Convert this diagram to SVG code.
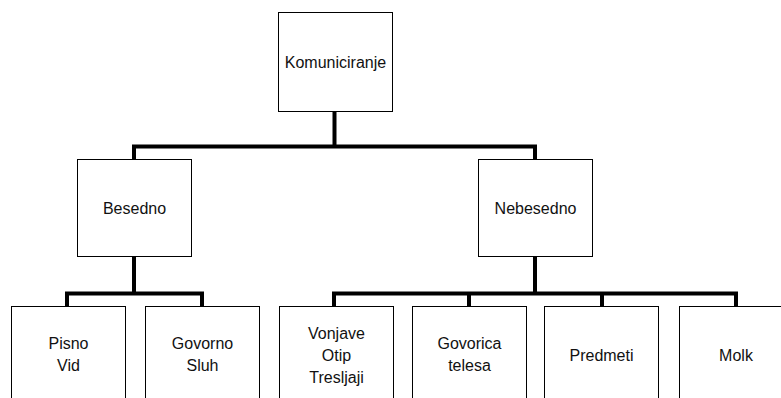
<svg xmlns="http://www.w3.org/2000/svg" width="781" height="398" viewBox="0 0 781 398">
<style>
.box{fill:#fff;stroke:#000;stroke-width:1}
.lbl{font-family:"Liberation Sans",Arial,sans-serif;font-size:16px;fill:#111;text-anchor:middle}
.con{fill:none;stroke:#000;stroke-width:4;stroke-linejoin:miter;stroke-linecap:square}
</style>
<rect width="781" height="398" fill="#fff"/>
<g id="connectors">
<path class="con" d="M334.5,111 V146.5 M134,159 V146.5 H535 V159"/>
<path class="con" d="M134,257 V293.5 M67,306 V293.5 H202 V306"/>
<path class="con" d="M535,257 V293.5 M334,306 V293.5 H736 V306 M469,293.5 V306 M602,293.5 V306"/>
</g>
<g id="komuniciranje">
<rect class="box" x="278.5" y="12.5" width="114" height="99"/>
<text class="lbl" x="335.5" y="67.5">Komuniciranje</text>
</g>
<g id="besedno">
<rect class="box" x="77.5" y="159.5" width="114" height="97"/>
<text class="lbl" x="134.5" y="213.5">Besedno</text>
</g>
<g id="nebesedno">
<rect class="box" x="478.5" y="159.5" width="114" height="97"/>
<text class="lbl" x="535.5" y="213.5">Nebesedno</text>
</g>
<g id="pisno">
<rect class="box" x="11.5" y="306.5" width="114" height="98"/>
<text class="lbl" x="68.5" y="348.5">Pisno</text>
<text class="lbl" x="68.5" y="370.5">Vid</text>
</g>
<g id="govorno">
<rect class="box" x="145.5" y="306.5" width="114" height="98"/>
<text class="lbl" x="202.5" y="348.5">Govorno</text>
<text class="lbl" x="202.5" y="370.5">Sluh</text>
</g>
<g id="vonjave">
<rect class="box" x="279.5" y="306.5" width="114" height="98"/>
<text class="lbl" x="336.5" y="339">Vonjave</text>
<text class="lbl" x="336.5" y="361">Otip</text>
<text class="lbl" x="336.5" y="383">Tresljaji</text>
</g>
<g id="govorica">
<rect class="box" x="412.5" y="306.5" width="114" height="98"/>
<text class="lbl" x="469.5" y="348.5">Govorica</text>
<text class="lbl" x="469.5" y="370.5">telesa</text>
</g>
<g id="predmeti">
<rect class="box" x="544.5" y="306.5" width="114" height="98"/>
<text class="lbl" x="601.5" y="361">Predmeti</text>
</g>
<g id="molk">
<rect class="box" x="679.5" y="306.5" width="114" height="98"/>
<text class="lbl" x="736" y="361">Molk</text>
</g>
</svg>
